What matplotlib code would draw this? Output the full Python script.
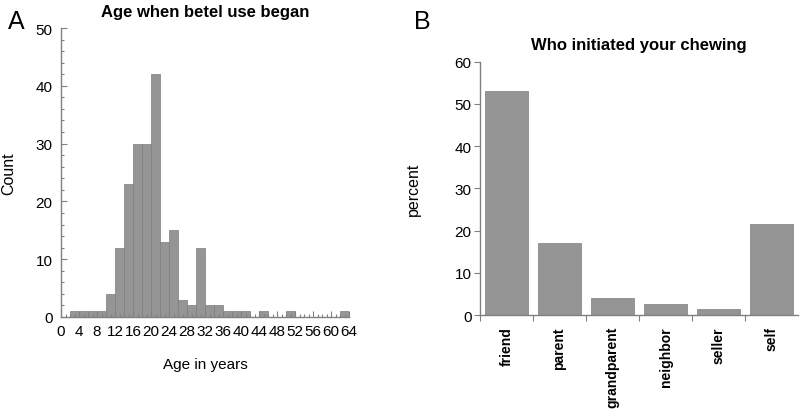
import matplotlib
matplotlib.use("Agg")
import matplotlib.pyplot as plt
from matplotlib.ticker import MultipleLocator, FixedLocator, NullFormatter

plt.rcParams['font.family'] = ['Liberation Sans', 'DejaVu Sans']

# Panel A data: histogram of age when betel use began (bins of width 2)
bin_starts = [2, 4, 6, 8, 10, 12, 14, 16, 18, 20, 22, 24, 26, 28, 30, 32, 34,
              36, 38, 40, 42, 44, 46, 48, 50, 52, 54, 56, 58, 60, 62]
counts = [1, 1, 1, 1, 4, 12, 23, 30, 30, 42, 13, 15, 3, 2, 12, 2, 2,
          1, 1, 1, 0, 1, 0, 0, 1, 0, 0, 0, 0, 0, 1]
age_ticks = list(range(0, 65, 4))

# Panel B data
initiators = ["friend", "parent", "grandparent", "neighbor", "seller", "self"]
percents = [53.0, 17.1, 4.0, 2.5, 1.4, 21.6]

bar_face = '#959595'
bar_edge = '#7d7d7d'
spine_col = '#808080'

fig = plt.figure(figsize=(8, 4.14), dpi=100)

# ---------- Panel A ----------
axA = fig.add_axes([0.07625, 0.2319, 0.36, 0.698])
axA.bar(bin_starts, counts, width=2, align='edge', color=bar_face,
        edgecolor=bar_edge, linewidth=0.5)
axA.set_xlim(0, 64)
axA.set_ylim(0, 50)
for s in ['top', 'right']:
    axA.spines[s].set_visible(False)
for s in ['left', 'bottom']:
    axA.spines[s].set_color(spine_col)
    axA.spines[s].set_linewidth(1.0)
axA.xaxis.set_major_locator(FixedLocator(age_ticks))
axA.xaxis.set_minor_locator(MultipleLocator(1))
axA.yaxis.set_major_locator(MultipleLocator(10))
axA.yaxis.set_minor_locator(MultipleLocator(2))
axA.tick_params(axis='both', which='both', direction='in', color=spine_col,
                labelsize=11, width=0.8)
axA.tick_params(axis='both', which='major', length=4)
axA.tick_params(axis='both', which='minor', length=2.5)
axA.tick_params(axis='x', pad=5)
axA.tick_params(axis='y', pad=6)
axA.set_xlabel("Age in years", fontsize=11, labelpad=14)
axA.set_ylabel("Count", fontsize=11.5, labelpad=14)
axA.set_title("Age when betel use began", fontsize=12, fontweight='bold', pad=9)
fig.text(0.01, 0.975, "A", fontsize=18, va='top', ha='left')

# ---------- Panel B ----------
axB = fig.add_axes([0.6, 0.2367, 0.3975, 0.612])
xpos = list(range(len(initiators)))
axB.bar(xpos, percents, width=0.8, color=bar_face, edgecolor=bar_edge,
        linewidth=0.5)
axB.set_xlim(-0.5, len(initiators) - 0.5)
axB.set_ylim(0, 60)
for s in ['top', 'right']:
    axB.spines[s].set_visible(False)
for s in ['left', 'bottom']:
    axB.spines[s].set_color(spine_col)
    axB.spines[s].set_linewidth(1.0)
axB.yaxis.set_major_locator(MultipleLocator(10))
axB.set_xticks(xpos)
axB.set_xticklabels(initiators, rotation=90, fontweight='bold', fontsize=10)
axB.tick_params(axis='x', which='major', length=0, pad=8)
axB.xaxis.set_minor_locator(FixedLocator([i + 0.5 for i in range(len(initiators) - 1)] + [-0.5]))
axB.xaxis.set_minor_formatter(NullFormatter())
axB.tick_params(axis='x', which='minor', direction='out', length=4,
                color=spine_col, width=0.8)
axB.tick_params(axis='y', direction='out', length=4, color=spine_col,
                width=0.8, labelsize=11, pad=2)
axB.set_ylabel("percent", fontsize=11.5, labelpad=24)
axB.set_title("Who initiated your chewing", fontsize=12, fontweight='bold', pad=9)
fig.text(0.518, 0.975, "B", fontsize=18, va='top', ha='left')

fig.savefig("out.png", dpi=100)
